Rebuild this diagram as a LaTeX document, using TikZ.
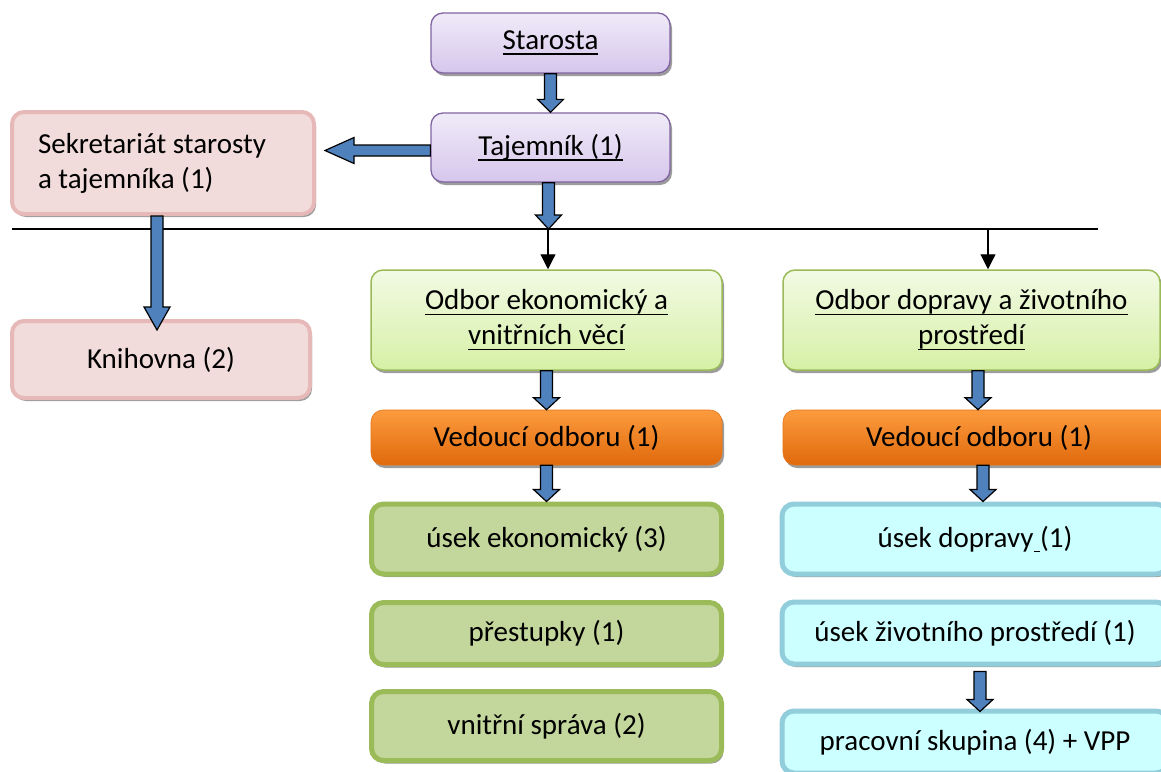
\documentclass[tikz,border=0pt]{standalone}
\usepackage{fontspec}
\setmainfont{Carlito}
\usetikzlibrary{calc,shadows,arrows.meta}
\definecolor{purpB}{HTML}{8064A2}
\definecolor{purpT}{HTML}{F0EBF8}
\definecolor{purpL}{HTML}{D6C6EC}
\definecolor{pinkF}{HTML}{F2DCDB}
\definecolor{pinkB}{HTML}{E6B9B8}
\definecolor{grnT}{HTML}{F2FAE4}
\definecolor{grnL}{HTML}{D6F0A6}
\definecolor{grnB}{HTML}{9BBB59}
\definecolor{oraT}{HTML}{FC9B3E}
\definecolor{oraL}{HTML}{E06A0C}
\definecolor{oliveF}{HTML}{C3D69B}
\definecolor{cyanF}{HTML}{CCFFFF}
\definecolor{cyanB}{HTML}{92CDDC}
\definecolor{arrB}{HTML}{4F81BD}
\newcommand\ulx[1]{\setbox0\hbox{#1}\rlap{\vrule height -3.6pt depth 5.2pt width \wd0}\box0}
% block arrow pointing down: #1 head length, #2 start, #3 tip
\newcommand\varrow[3]{%
  \draw[barrow] let \p1=#2, \p2=#3 in
    (\x1-6pt,\y1) -- (\x1-6pt,\y2+#1) -- (\x1-13pt,\y2+#1) -- (\x1,\y2)
    -- (\x1+13pt,\y2+#1) -- (\x1+6pt,\y2+#1) -- (\x1+6pt,\y1) -- cycle;}
% block arrow pointing left
\newcommand\harrow[3]{%
  \draw[barrow] let \p1=#2, \p2=#3 in
    (\x1,\y1-5.5pt) -- (\x2+#1,\y1-5.5pt) -- (\x2+#1,\y1-13pt) -- (\x2,\y1)
    -- (\x2+#1,\y1+13pt) -- (\x2+#1,\y1+5.5pt) -- (\x1,\y1+5.5pt) -- cycle;}
\tikzset{
  box/.style={rounded corners=12pt, align=center, inner sep=0pt,
    font=\fontsize{29}{35}\selectfont,
    drop shadow={shadow xshift=2pt, shadow yshift=-3pt, fill=black!55, opacity=.7}},
  purple/.style={box, draw=purpB, line width=1.3pt, top color=purpT, bottom color=purpL},
  pink/.style={box, draw=pinkB, line width=4pt, fill=pinkF},
  lgreen/.style={box, draw=grnB, line width=1.5pt, top color=grnT, bottom color=grnL},
  orange/.style={box, draw=oraL!80!oraT, line width=0.6pt, top color=oraT, bottom color=oraL},
  olive/.style={box, draw=grnB, line width=5pt, fill=oliveF},
  cyan/.style={box, draw=cyanB, line width=5pt, fill=cyanF},
  barrow/.style={draw=black, line width=1.2pt, fill=arrB, line join=miter},
  thin/.style={draw=black, line width=1.2pt},
}
\begin{document}
\begin{tikzpicture}[x=1pt,y=-1pt]
\useasboundingbox[fill=white] (0,0) rectangle (1161,771);

\node[purple, minimum width=239pt, minimum height=60pt] (staro) at (550.5,43) {\ulx{Starosta}};
\node[purple, minimum width=239pt, minimum height=69pt] (taj) at (550.5,147.5) {\ulx{Tajemník (1)}};
\node[pink, minimum width=302pt, minimum height=102pt, text width=250pt, align=flush left] (sekr) at (163,163) {Sekretariát starosty\\a tajemníka (1)};
\node[pink, minimum width=298pt, minimum height=77pt] (knih) at (161,359.5) {Knihovna (2)};

\node[lgreen, minimum width=351pt, minimum height=100pt] (oek) at (546.5,320) {\ulx{Odbor ekonomický a}\\\ulx{vnitřních věcí}};
\node[lgreen, minimum width=377pt, minimum height=100pt] (odp) at (971.5,320) {\ulx{Odbor dopravy a životního}\\\ulx{prostředí}};

\node[orange, minimum width=351pt, minimum height=55pt] (ved1) at (546.5,437.5) {Vedoucí odboru (1)};
\node[orange, minimum width=392pt, minimum height=55pt] (ved2) at (979,437.5) {Vedoucí odboru (1)};

\node[olive, minimum width=350pt, minimum height=70pt] (usek1) at (546.5,539) {úsek ekonomický (3)};
\node[olive, minimum width=350pt, minimum height=62pt] (prest) at (546.5,633.5) {přestupky (1)};
\node[olive, minimum width=350pt, minimum height=69pt] (vnit) at (546.5,726) {vnitřní správa (2)};

\node[cyan, minimum width=386pt, minimum height=70pt] (usek2) at (975,539) {úsek dopravy\ulx{\ }(1)};
\node[cyan, minimum width=386pt, minimum height=62pt] (uzp) at (975,633) {úsek životního prostředí (1)};
\node[cyan, minimum width=386pt, minimum height=62pt] (prac) at (975,742) {pracovní skupina (4) + VPP};

% horizontal distribution line
\coordinate (lineL) at (12,229);
\coordinate (lineR) at (1098,229);
\coordinate (j1) at (548,229);
\coordinate (j2) at (988,229);
\draw[thin] (lineL) -- (lineR);
\draw[thin, -{Triangle[length=15pt,width=15pt]}] (j1) -- (j1 |- oek.north);
\draw[thin, -{Triangle[length=15pt,width=15pt]}] (j2) -- (j2 |- odp.north);

% block arrows
\varrow{13pt}{(staro.south)}{(taj.north)}
\varrow{14pt}{([xshift=-2pt]taj.south)}{([xshift=-2pt]taj.south |- j1)}
\harrow{29pt}{([yshift=-3pt]taj.west)}{([yshift=-3pt,xshift=9pt]taj.west -| sekr.east)}
\varrow{23pt}{([xshift=-6pt]sekr.south)}{([xshift=-6pt,yshift=-11pt]sekr.south |- knih.north)}
\varrow{12pt}{(oek.south)}{(ved1.north)}
\varrow{12pt}{(ved1.south)}{(usek1.north)}
\varrow{12pt}{([xshift=6.5pt]odp.south)}{([xshift=6.5pt]odp.south |- ved2.north)}
\varrow{12pt}{([xshift=4pt]ved2.south)}{([xshift=4pt]ved2.south |- usek2.north)}
\varrow{12pt}{([xshift=5pt,yshift=-5pt]uzp.south)}{([xshift=5pt,yshift=-3pt]uzp.south |- prac.north)}
\end{tikzpicture}
\end{document}
